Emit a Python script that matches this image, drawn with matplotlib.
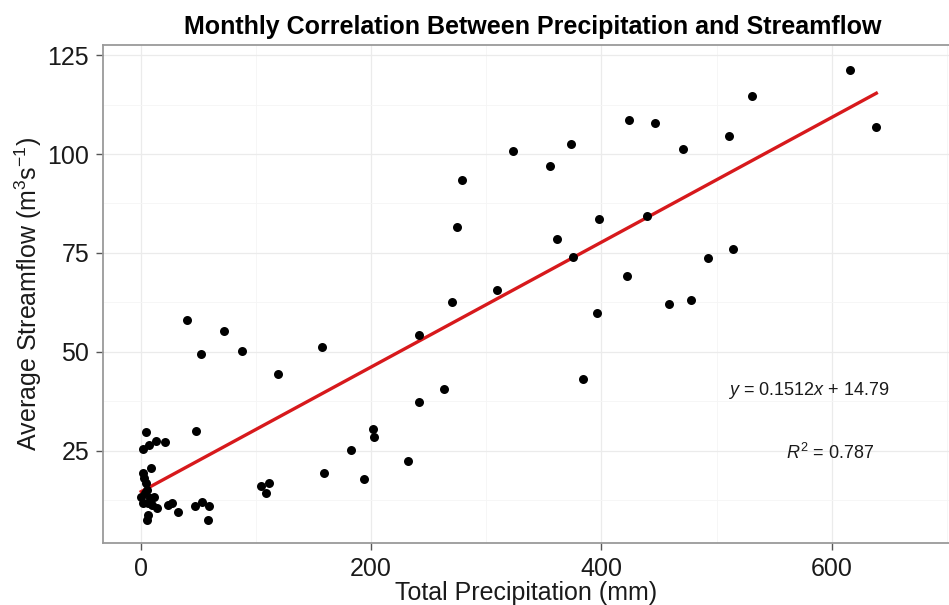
import matplotlib
matplotlib.use("Agg")
import matplotlib.pyplot as plt
import numpy as np

plt.rcParams['font.family'] = ['Liberation Sans', 'DejaVu Sans']
plt.rcParams['mathtext.fontset'] = 'custom'
plt.rcParams['mathtext.rm'] = 'Liberation Sans'
plt.rcParams['mathtext.it'] = 'Liberation Sans:italic'
plt.rcParams['mathtext.bf'] = 'Liberation Sans:bold'

# ---- data ----
precip = [
    615.9, 530.5, 638.7, 424.2, 446.8, 510.6, 373.6, 323.0, 470.6, 355.4,
    279.2, 274.6, 397.7, 439.4, 361.7, 375.1, 514.3, 492.6, 309.6, 422.0,
    270.3, 458.7, 478.1, 395.9, 241.6, 384.0, 263.1, 241.6, 232.4,
    40.2, 72.6, 52.1, 88.0, 119.5, 157.2,
    104.2, 111.4, 108.8, 159.2, 182.6, 193.6, 201.4, 202.6,
    4.3, 48.3, 13.0, 21.1, 7.2, 2.3, 8.9, 2.3, 3.1, 4.3,
    5.5, 0.5, 8.1, 11.5, 2.0, 6.3, 9.8, 14.2, 23.7, 27.2,
    32.4, 47.2, 53.2, 59.3, 6.3, 5.5, 58.4, 3.5,
]
streamflow = [
    121.4, 114.6, 106.9, 108.6, 107.8, 104.6, 102.6, 100.8, 101.4, 96.9,
    93.5, 81.5, 83.6, 84.4, 78.4, 74.0, 75.9, 73.6, 65.7, 69.2,
    62.6, 62.1, 63.2, 59.8, 54.3, 43.1, 40.6, 37.2, 22.4,
    58.1, 55.3, 49.3, 50.2, 44.3, 51.3,
    16.1, 16.7, 14.3, 19.2, 25.1, 17.8, 30.4, 28.3,
    29.7, 29.9, 27.5, 27.1, 26.4, 25.3, 20.5, 19.2, 18.0, 16.7,
    15.0, 13.3, 13.0, 13.2, 11.7, 11.7, 11.2, 10.4, 11.2, 11.7,
    9.4, 10.9, 12.0, 10.9, 8.7, 7.4, 7.4, 14.2,
]
# fitted line as drawn in the picture (end points)
fit_x = [0.5, 638.7]
fit_y = [14.6, 115.4]
eq_slope = 0.1512
eq_intercept = 14.79
r_squared = 0.787
x_ticks = [0, 200, 400, 600]
y_ticks = [25, 50, 75, 100, 125]

title = "Monthly Correlation Between Precipitation and Streamflow"
xlabel = "Total Precipitation (mm)"
ylabel = "Average Streamflow (m$^3$s$^{-1}$)"

# ---- figure ----
fig = plt.figure(figsize=(9.49, 6.05), dpi=100)
ax = fig.add_axes([0.1085, 0.1025, 0.8915, 0.8231])

ax.set_xlim(-32.7, 701.8)
ax.set_ylim(1.6, 127.6)

ax.set_xticks(x_ticks)
ax.set_yticks(y_ticks)
ax.set_xticks([100, 300, 500, 700], minor=True)
ax.set_yticks([12.5, 37.5, 62.5, 87.5, 112.5], minor=True)
ax.grid(which='major', color='#ebebeb', linewidth=0.9)
ax.grid(which='minor', color='#f5f5f5', linewidth=0.6)
ax.set_axisbelow(True)

for s in ['left', 'bottom', 'top']:
    ax.spines[s].set_color('#9a9a9a')
    ax.spines[s].set_linewidth(1.3)
ax.spines['right'].set_visible(False)

ax.tick_params(which='major', direction='out', length=5, width=1.0,
               color='#555555', labelsize=18, labelcolor='#1a1a1a', pad=5)
ax.tick_params(which='minor', length=0)

ax.scatter(precip, streamflow, s=42, color='black', zorder=3, linewidths=0)

ax.plot(fit_x, fit_y, color='#d7191c', linewidth=2.4, zorder=2)

ax.text(579.6, 40.3, f"$y$ = {eq_slope}$x$ + {eq_intercept}", ha='center', va='center',
        fontsize=13, color='#1a1a1a')
ax.text(598.5, 24.3, f"$R^2$ = {r_squared}", ha='center', va='center',
        fontsize=13, color='#1a1a1a')

ax.set_xlabel(xlabel, fontsize=18, color='#1a1a1a', labelpad=0)
ax.set_ylabel(ylabel, fontsize=18, color='#1a1a1a', labelpad=2)
fig.text(0.561, 0.955, title, ha='center', va='center', fontsize=18,
         fontweight='bold', color='black')

fig.savefig("out.png", dpi=100, facecolor='white')
